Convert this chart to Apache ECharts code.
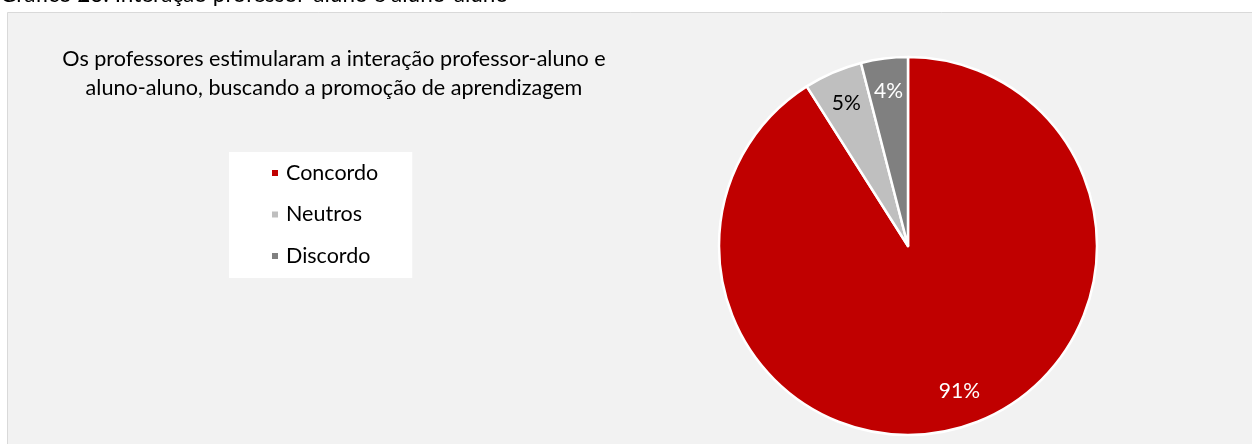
<!DOCTYPE html>
<html>
<head>
<meta charset="utf-8">
<script src="https://cdn.jsdelivr.net/npm/echarts@6/dist/echarts.min.js"></script>
<style>
html,body{margin:0;padding:0;background:#fff;}
#chart{width:1252px;height:444px;}
</style>
</head>
<body>
<div id="chart"></div>
<script>
const categories = ["Concordo", "Neutros", "Discordo"];
const values = [91, 5, 4];
const colors = ["#c00000", "#bfbfbf", "#808080"];
const labelColors = ["#ffffff", "#000000", "#ffffff"];
const chartTitle = "Os professores estimularam a interação professor-aluno e\naluno-aluno, buscando a promoção de aprendizagem";
const captionText = "Gráfico 23: Interação professor-aluno e aluno-aluno";

const FONT = "Lato, 'Open Sans', sans-serif";
const chart = echarts.init(document.getElementById('chart'));
const total = values.reduce((a, b) => a + b, 0);
const data = categories.map((c, i) => ({
  name: c, value: values[i],
  itemStyle: { color: colors[i] }
}));

chart.setOption({
  backgroundColor: '#ffffff',
  animation: false,
  graphic: [
    { type: 'rect', z: -10, shape: { x: 7.5, y: 12.5, width: 1260, height: 460 },
      style: { fill: '#f2f2f2', stroke: '#d9d9d9', lineWidth: 1 } },
    { type: 'text', left: 0, top: -16.5,
      style: { text: captionText, font: '22.5px ' + FONT, fill: '#000' } }
  ],
  title: {
    text: chartTitle,
    left: 329, top: 40, textAlign: 'center',
    textStyle: { fontFamily: FONT, fontSize: 21.6, fontWeight: 'normal', color: '#000', lineHeight: 29 }
  },
  legend: {
    orient: 'vertical',
    left: 229, top: 152,
    backgroundColor: '#ffffff',
    padding: [10, 34, 11, 41],
    itemGap: 19.5,
    icon: 'rect', itemWidth: 8, itemHeight: 8,
    textStyle: { fontFamily: FONT, fontSize: 21.5, color: '#000', padding: [0, 0, 0, 2] },
    data: categories
  },
  series: [
    {
      type: 'pie',
      center: [908, 246],
      radius: [0, 189],
      startAngle: 90,
      clockwise: true,
      silent: true,
      itemStyle: { borderColor: '#ffffff', borderWidth: 2.5 },
      label: { show: false },
      labelLine: { show: false },
      data: data
    },
    {
      type: 'pie',
      center: [908, 246],
      radius: [116, 189],
      startAngle: 90,
      clockwise: true,
      silent: true,
      legendHoverLink: false,
      itemStyle: { color: 'transparent', borderWidth: 0 },
      label: {
        show: true, position: 'inside',
        fontFamily: FONT, fontSize: 21,
        formatter: p => Math.round(p.value / total * 100) + '%'
      },
      labelLine: { show: false },
      data: categories.map((c, i) => ({
        name: c + ' ', value: values[i],
        itemStyle: { color: 'rgba(0,0,0,0)' },
        label: { color: labelColors[i], offset: i === 0 ? [8, -4] : [0, 0] }
      }))
    }
  ]
});
</script>
</body>
</html>
